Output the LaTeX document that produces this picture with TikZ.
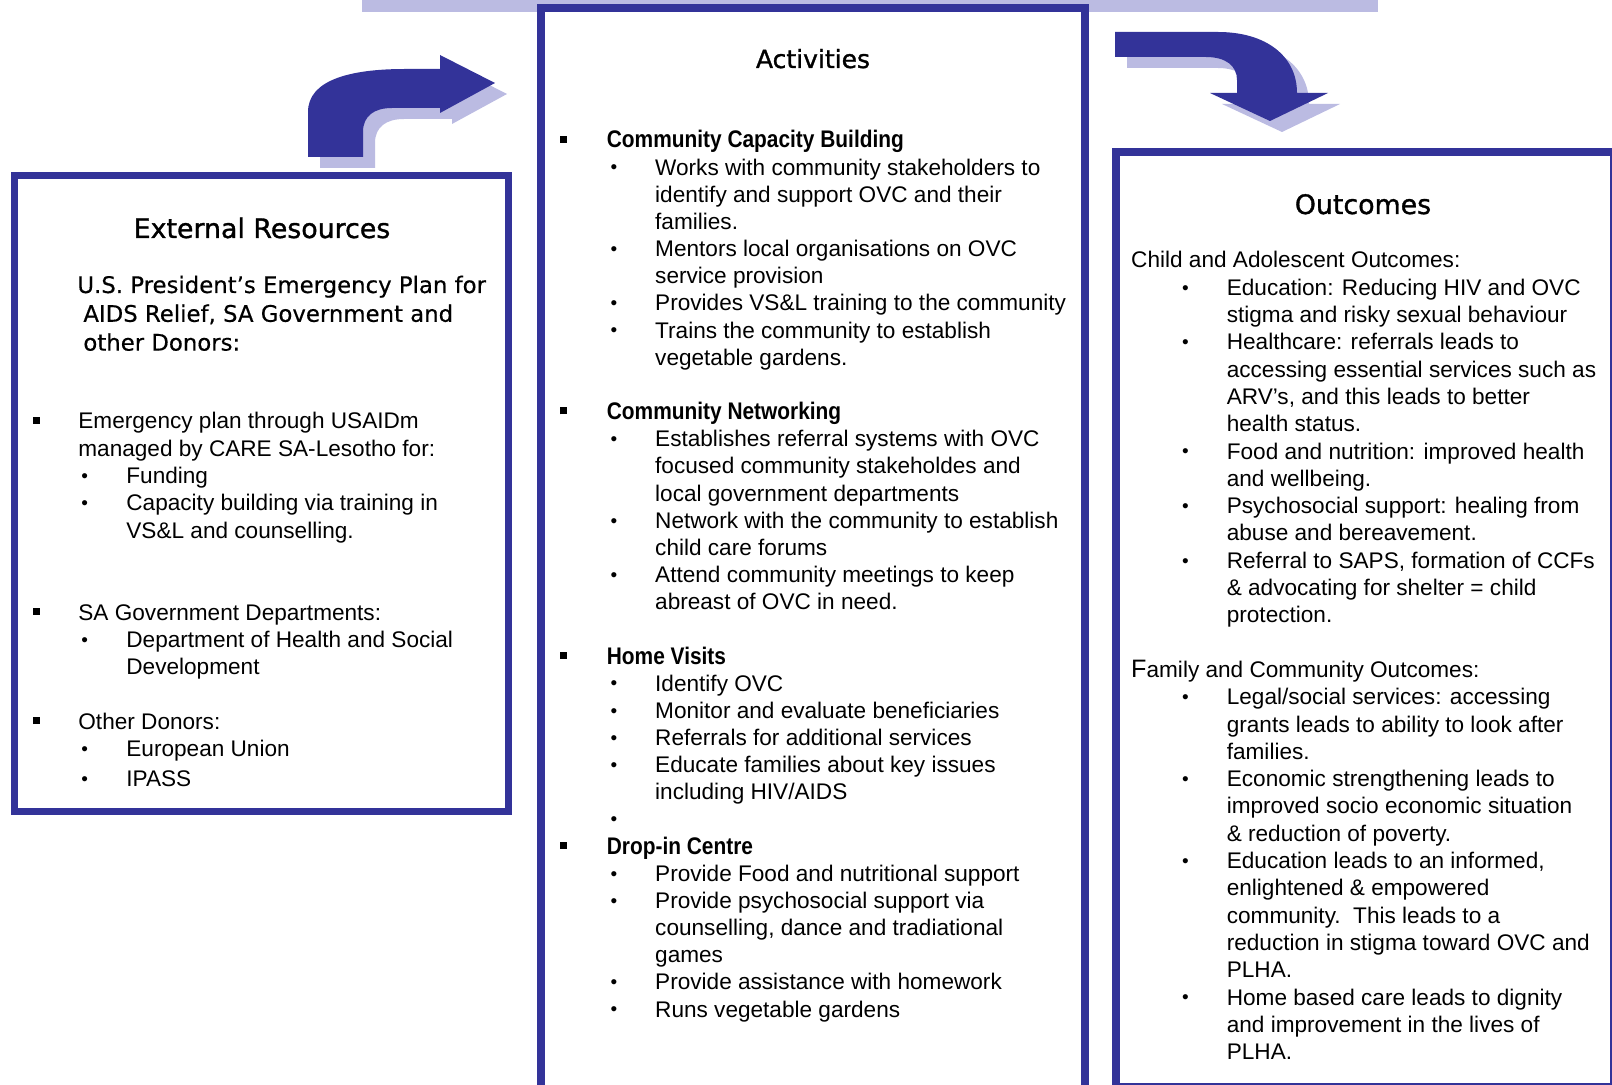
\documentclass[tikz,border=0pt]{standalone}
\usepackage{fontspec}
\setmainfont{Liberation Sans}
\newfontfamily\headfont[FakeBold=1.2]{DejaVu Sans}
\newfontfamily\introfont[FakeBold=0.4]{DejaVu Sans}
\newfontface\subheadface[FakeStretch=0.87]{Liberation Sans Bold}
\newcommand{\subheadfont}{\subheadface\fontsize{12pt}{13.58pt}\selectfont}
\usepackage{xcolor}
\definecolor{frameBlue}{HTML}{333399}
\definecolor{shadowBlue}{HTML}{BBBBE2}
\usepackage{tikz}
\usetikzlibrary{positioning}

% list marks and indents
\newlength{\sqgap}\newlength{\dotin}\newlength{\txtin}
\newcommand{\sqmark}{\raisebox{2.6pt}{\rule{3.5pt}{3.5pt}}}
\newcommand{\dotmark}{\raisebox{0.6pt}{\fontsize{9.5pt}{9.5pt}\selectfont\textbullet}}
\newcommand{\sqi}[1]{\makebox[\sqgap][l]{\sqmark}{#1}}
\newcommand{\doti}[1]{\hspace*{\dotin}\makebox[\dimexpr\txtin-\dotin\relax][l]{\dotmark}{#1}}
\newcommand{\cnta}[1]{\hspace*{\sqgap}{#1}}
\newcommand{\cntb}[1]{\hspace*{\txtin}{#1}}

\begin{document}
\begin{tikzpicture}[x=0.5pt, y=-0.5pt,
  frame/.style={draw=frameBlue, fill=white},
  listbox/.style={anchor=base west, inner sep=0pt},
  titletext/.style={anchor=base, inner sep=0pt}]
\useasboundingbox (0,0) rectangle (1612,1085);

% shaded band behind the activities box
\fill[shadowBlue] (362,0) rectangle (1378,12);

% bent block arrows, shadow first
\foreach \dx/\dy/\col in {12/11/shadowBlue, 0/0/frameBlue} {
  \fill[\col, shift={(\dx,\dy)}] (308,157) -- (308,112)
    .. controls (308,80) and (350,69) .. (405,69) -- (440,69) -- (440,55)
    -- (495,83) -- (440,113) -- (440,108) -- (392,108)
    .. controls (374,108) and (363,116) .. (363,132) -- (363,157) -- cycle;
  \fill[\col, shift={(\dx,\dy)}] (1115,32) -- (1218,32)
    .. controls (1266,32) and (1297,56) .. (1297,93) -- (1328,93)
    -- (1270,121) -- (1210,93) -- (1237,93) -- (1237,80)
    .. controls (1237,66) and (1226,57) .. (1206,57) -- (1115,57) -- cycle;
}

% boxes
\draw[frame, line width=3.5pt] (14,176) rectangle (508,811);
\draw[frame, line width=4pt] (541,8) rectangle (1085,1089);
\draw[frame, line width=4pt] (1116,152) rectangle (1614,1087);

% titles
\node[titletext, font=\headfont\fontsize{13.4pt}{16pt}\selectfont] (restitle) at (262,238) {External Resources};
\node[titletext, font=\headfont\fontsize{12.5pt}{15pt}\selectfont] (acttitle) at (813,68) {Activities};
\node[titletext, font=\headfont\fontsize{13.4pt}{16pt}\selectfont] (outtitle) at (1363,214) {Outcomes};

% external resources
\node[listbox, font=\introfont] (pepfar) at (83,293) {\parbox[t]{260pt}{\fontsize{11.4pt}{14.4pt}\selectfont
  \hspace*{-3pt}U.S. President’s Emergency Plan for\\
  AIDS Relief, SA Government and\\
  other Donors:}};

\node[listbox] (reslist) at (32.5,429) {\parbox[t]{300pt}{%
  \setlength{\sqgap}{22.75pt}\setlength{\dotin}{24.25pt}\setlength{\txtin}{46.75pt}%
  \fontsize{11.3pt}{13.65pt}\selectfont
  \sqi{Emergency plan through USAIDm}\\
  \cnta{managed by CARE SA-Lesotho for:}\\
  \doti{Funding}\\
  \doti{Capacity building via training in}\\
  \cntb{VS\&L and counselling.}\\
  \mbox{}\\
  \mbox{}\\
  \sqi{SA Government Departments:}\\
  \doti{Department of Health and Social}\\
  \cntb{Development}\\
  \mbox{}\\
  \sqi{Other Donors:}\\
  \doti{European Union}\\[1.5pt]
  \doti{IPASS}}};

% activities
\node[listbox] (actlist) at (559.5,148) {\parbox[t]{300pt}{%
  \setlength{\sqgap}{23.5pt}\setlength{\dotin}{25.35pt}\setlength{\txtin}{47.65pt}%
  \fontsize{11.3pt}{13.58pt}\selectfont
  \sqi{\subheadfont Community Capacity Building}\\
  \doti{Works with community stakeholders to}\\
  \cntb{identify and support OVC and their}\\
  \cntb{families.}\\
  \doti{Mentors local organisations on OVC}\\
  \cntb{service provision}\\
  \doti{Provides VS\&L training to the community}\\
  \doti{Trains the community to establish}\\
  \cntb{vegetable gardens.}\\
  \mbox{}\\
  \sqi{\subheadfont Community Networking}\\
  \doti{Establishes referral systems with OVC}\\
  \cntb{focused community stakeholdes and}\\
  \cntb{local government departments}\\
  \doti{Network with the community to establish}\\
  \cntb{child care forums}\\
  \doti{Attend community meetings to keep}\\
  \cntb{abreast of OVC in need.}\\
  \mbox{}\\
  \sqi{\subheadfont Home Visits}\\
  \doti{Identify OVC}\\
  \doti{Monitor and evaluate beneficiaries}\\
  \doti{Referrals for additional services}\\
  \doti{Educate families about key issues}\\
  \cntb{including HIV/AIDS}\\
  \doti{}\\
  \sqi{\subheadfont Drop-in Centre}\\
  \doti{Provide Food and nutritional support}\\
  \doti{Provide psychosocial support via}\\
  \cntb{counselling, dance and tradiational}\\
  \cntb{games}\\
  \doti{Provide assistance with homework}\\
  \doti{Runs vegetable gardens}}};

% outcomes
\node[listbox] (outlist) at (1130.8,268) {\parbox[t]{300pt}{%
  \setlength{\dotin}{25.5pt}\setlength{\txtin}{47.8pt}%
  \fontsize{11.3pt}{13.65pt}\selectfont
  Child and Adolescent Outcomes:\\
  \doti{Education: Reducing HIV and OVC}\\
  \cntb{stigma and risky sexual behaviour}\\
  \doti{Healthcare: referrals leads to}\\
  \cntb{accessing essential services such as}\\
  \cntb{ARV’s, and this leads to better}\\
  \cntb{health status.}\\
  \doti{Food and nutrition: improved health}\\
  \cntb{and wellbeing.}\\
  \doti{Psychosocial support: healing from}\\
  \cntb{abuse and bereavement.}\\
  \doti{Referral to SAPS, formation of CCFs}\\
  \cntb{\& advocating for shelter = child}\\
  \cntb{protection.}\\
  \mbox{}\\
  {\fontsize{12.6pt}{13.65pt}\selectfont F}amily and Community Outcomes:\\
  \doti{Legal/social services: accessing}\\
  \cntb{grants leads to ability to look after}\\
  \cntb{families.}\\
  \doti{Economic strengthening leads to}\\
  \cntb{improved socio economic situation}\\
  \cntb{\& reduction of poverty.}\\
  \doti{Education leads to an informed,}\\
  \cntb{enlightened \& empowered}\\
  \cntb{community.\ \ This leads to a}\\
  \cntb{reduction in stigma toward OVC and}\\
  \cntb{PLHA.}\\
  \doti{Home based care leads to dignity}\\
  \cntb{and improvement in the lives of}\\
  \cntb{PLHA.}}};
\end{tikzpicture}
\end{document}
